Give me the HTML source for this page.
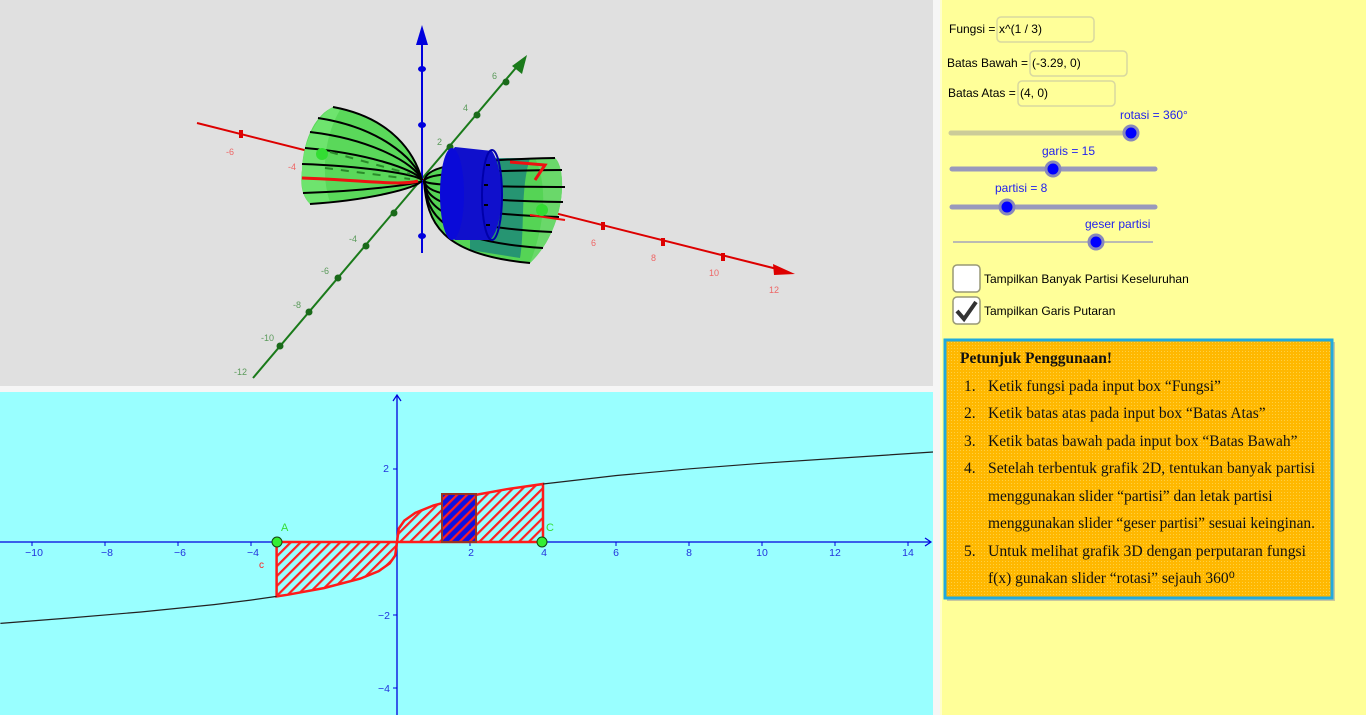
<!DOCTYPE html>
<html><head><meta charset="utf-8">
<style>
html,body{margin:0;padding:0;width:1366px;height:715px;overflow:hidden;background:#ffff99;}
svg{display:block;font-family:"Liberation Sans",Arial,sans-serif;}
.ser{font-family:"Liberation Serif","Times New Roman",serif;}
</style></head>
<body>
<svg width="1366" height="715" viewBox="0 0 1366 715" xmlns="http://www.w3.org/2000/svg">
<defs>
<pattern id="hatch" width="7" height="7" patternUnits="userSpaceOnUse" patternTransform="rotate(45)">
<rect width="7" height="7" fill="#99ffff"/>
<rect width="2.2" height="7" fill="#ff2020"/>
</pattern>
<pattern id="hatchB" width="7" height="7" patternUnits="userSpaceOnUse" patternTransform="rotate(45)">
<rect width="7" height="7" fill="#1010e0"/>
<rect width="2.2" height="7" fill="#ff2020"/>
</pattern>
<pattern id="org" width="3" height="3" patternUnits="userSpaceOnUse">
<rect width="3" height="3" fill="#ffb800"/>
<rect width="1" height="1" fill="#ffd040"/>
</pattern>
</defs>

<rect x="0" y="0" width="1366" height="715" fill="#ffff99"/>
<rect x="0" y="0" width="933" height="386" fill="#e0e0e0"/>
<rect x="0" y="386" width="940" height="6" fill="#f6f6f6"/>
<rect x="0" y="392" width="933" height="323" fill="#99ffff"/>
<rect x="933" y="0" width="7" height="715" fill="#f6f6f6"/>
<rect x="940" y="0" width="2" height="715" fill="#ffffcc"/>

<!-- ===== 3D view ===== -->
<line x1="253" y1="378" x2="520" y2="63" stroke="#1a7a1a" stroke-width="2"/>
<polygon points="527,55 512,66 522,74" fill="#1a7a1a"/>
<g fill="#1a6a1a">
<circle cx="280" cy="346" r="3.5"/><circle cx="309" cy="312" r="3.5"/><circle cx="338" cy="278" r="3.5"/><circle cx="366" cy="246" r="3.5"/><circle cx="394" cy="213" r="3.5"/><circle cx="450" cy="147" r="3.5"/><circle cx="477" cy="115" r="3.5"/><circle cx="506" cy="82" r="3.5"/>
</g>
<g fill="#5a9a5a" font-size="9">
<text x="234" y="375">-12</text><text x="261" y="341">-10</text><text x="293" y="308">-8</text><text x="321" y="274">-6</text><text x="349" y="242">-4</text><text x="437" y="145">2</text><text x="463" y="111">4</text><text x="492" y="79">6</text>
</g>
<line x1="197" y1="123" x2="785" y2="271" stroke="#dd0000" stroke-width="2"/>
<polygon points="795,274 773,264 774,275" fill="#dd0000"/>
<g fill="#dd0000">
<rect x="239" y="130" width="4" height="8"/><rect x="360" y="159" width="4" height="8"/><rect x="601" y="222" width="4" height="8"/><rect x="661" y="238" width="4" height="8"/><rect x="721" y="253" width="4" height="8"/>
</g>
<g fill="#ee6666" font-size="9">
<text x="226" y="155">-6</text><text x="288" y="170">-4</text><text x="591" y="246">6</text><text x="651" y="261">8</text><text x="709" y="276">10</text><text x="769" y="293">12</text>
</g>
<line x1="422" y1="253" x2="422" y2="40" stroke="#0000dd" stroke-width="2"/>
<polygon points="422,25 416,45 428,45" fill="#0000dd"/>
<g fill="#0000dd"><ellipse cx="422" cy="69" rx="4" ry="3"/><ellipse cx="422" cy="125" rx="4" ry="3"/><ellipse cx="422" cy="236" rx="4" ry="3"/></g>

<!-- left frustum -->
<path d="M333,107 C393,118 415,154.5 422,180 C415,188.4 370,200 310,204 C302,196 300,185 302,170 C303,140 315,115 333,107 Z" fill="#5ad85a"/>
<path d="M333,107 C318,115 303,140 302,170 C300,185 303,196 310,204 L330,202 C322,180 322,140 340,110 Z" fill="#6ee46e"/>
<g stroke="#000" stroke-width="2" fill="none">
<path d="M333,107 C393,118 415,154.5 422,180"/>
<path d="M318,118 C378,127 415,158 422,180"/>
<path d="M310,132 C370,139 415,163 422,180"/>
<path d="M305,148 C365,153 415,169 422,180"/>
<path d="M302,164 C362,166 415,174 422,180"/>
<path d="M303,193 C363,191 415,184.5 422,181"/>
<path d="M310,204 C370,200 415,188.4 422,181"/>
</g>
<path d="M302,178 C362,180 400,186 418,181" stroke="#ee1111" stroke-width="3" fill="none"/>
<g stroke="#2a8a2a" stroke-width="2" stroke-dasharray="8,8"><line x1="330" y1="152" x2="410" y2="174"/><line x1="325" y1="168" x2="410" y2="179"/></g>
<circle cx="322" cy="154" r="6" fill="#33dd33"/>

<!-- right frustum -->
<path d="M424,181 C427,169.5 440,160.3 555,158 C568,170 565,230 530,263 C440,254.8 427,222 424,181 Z" fill="#55d455"/>
<path d="M470,158 L530,158 C520,190 525,230 520,258 L470,250 Z" fill="#1f8a78" opacity="0.85"/>
<path d="M555,158 C568,170 565,230 530,263 C545,225 548,185 535,158 Z" fill="#6ad86a"/>
<g stroke="#000" stroke-width="2" fill="none">
<path d="M424,181 C427,169.5 440,160.3 555,158"/>
<path d="M424,181 C427,175.5 440,171.1 562,170"/>
<path d="M424,181 C427,184 440,186.4 565,187"/>
<path d="M424,181 C427,191.5 440,199.9 563,202"/>
<path d="M424,181 C427,199 440,213.4 559,217"/>
<path d="M424,181 C427,206.5 440,226.9 552,232"/>
<path d="M424,181 C427,214.5 440,241.3 543,248"/>
<path d="M424,181 C427,222 440,254.8 530,263"/>
</g>
<path d="M510,162 L545,165 L535,180" stroke="#ee1111" stroke-width="3" fill="none"/>
<line x1="530" y1="215" x2="565" y2="220" stroke="#ee1111" stroke-width="2"/>
<circle cx="542" cy="210" r="6" fill="#33dd33"/>
<!-- blue ring -->
<path d="M455,147 L492,151 C505,170 505,225 490,240 L455,240 C438,225 438,165 455,147 Z" fill="#1010cc"/>
<ellipse cx="452" cy="194" rx="12" ry="46" fill="#0a0ad8"/>
<ellipse cx="492" cy="195" rx="10" ry="45" fill="none" stroke="#0000aa" stroke-width="2"/>
<g stroke="#000" stroke-width="2"><line x1="486" y1="165" x2="490" y2="165"/><line x1="484" y1="185" x2="488" y2="185"/><line x1="484" y1="205" x2="488" y2="205"/><line x1="486" y1="225" x2="490" y2="225"/></g>

<!-- ===== 2D view ===== -->
<line x1="0" y1="542" x2="930" y2="542" stroke="#0000dd" stroke-width="1.3"/>
<path d="M925,538 L931,542 L925,546" fill="none" stroke="#0000dd" stroke-width="1.2"/>
<line x1="397" y1="396" x2="397" y2="715" stroke="#0000dd" stroke-width="1.3"/>
<path d="M393,401 L397,395 L401,401" fill="none" stroke="#0000dd" stroke-width="1.2"/>
<g stroke="#0000dd" stroke-width="1">
<line x1="32" y1="542" x2="32" y2="546"/><line x1="105" y1="542" x2="105" y2="546"/><line x1="178" y1="542" x2="178" y2="546"/><line x1="251" y1="542" x2="251" y2="546"/><line x1="324" y1="542" x2="324" y2="546"/><line x1="470" y1="542" x2="470" y2="546"/><line x1="543" y1="542" x2="543" y2="546"/><line x1="616" y1="542" x2="616" y2="546"/><line x1="689" y1="542" x2="689" y2="546"/><line x1="762" y1="542" x2="762" y2="546"/><line x1="835" y1="542" x2="835" y2="546"/><line x1="908" y1="542" x2="908" y2="546"/>
<line x1="393" y1="469" x2="397" y2="469"/><line x1="393" y1="615" x2="397" y2="615"/><line x1="393" y1="688" x2="397" y2="688"/>
</g>
<g fill="#2233dd" font-size="10.5" text-anchor="middle">
<text x="34" y="556">−10</text><text x="107" y="556">−8</text><text x="180" y="556">−6</text><text x="253" y="556">−4</text><text x="327" y="556">−2</text><text x="387" y="556">0</text><text x="471" y="556">2</text><text x="544" y="556">4</text><text x="616" y="556">6</text><text x="689" y="556">8</text><text x="762" y="556">10</text><text x="835" y="556">12</text><text x="908" y="556">14</text>
<text x="386" y="472">2</text><text x="384" y="619">−2</text><text x="384" y="692">−4</text>
</g>
<path d="M276.6,542 L397,542 L395.2,555.5 L389.7,563.4 L378.7,571.1 L360.4,578.6 L323.8,588.1 L287.2,594.8 L276.6,596.4 Z" fill="url(#hatch)" stroke="#ff1a1a" stroke-width="2.5"/>
<path d="M397,542 L398.8,528.5 L404.3,520.6 L415.3,512.9 L433.6,505.4 L470.2,495.9 L506.8,489.2 L543,484 L543,542 Z" fill="url(#hatch)" stroke="#ff1a1a" stroke-width="2.5"/>
<rect x="442" y="494" width="34" height="48" fill="url(#hatchB)" stroke="#993322" stroke-width="2"/>
<polyline points="0.4,623.4 67.6,618.1 140.8,612 214,604.6 250.6,600.1 276.6,596.4" fill="none" stroke="#222" stroke-width="1.2"/>
<polyline points="543,484 616.6,475.5 689.8,468.8 763,463.2 836.2,458.4 933,452" fill="none" stroke="#222" stroke-width="1.2"/>
<circle cx="277" cy="542" r="5" fill="#33ee33" stroke="#114411" stroke-width="1"/>
<circle cx="542" cy="542" r="5" fill="#33ee33" stroke="#114411" stroke-width="1"/>
<text x="281" y="531" fill="#33dd33" font-size="11">A</text>
<text x="546" y="531" fill="#33dd33" font-size="11">C</text>
<text x="259" y="568" fill="#ff2020" font-size="10">c</text>

<!-- ===== right panel ===== -->
<g font-size="12" fill="#000">
<text x="949" y="33">Fungsi =</text>
<rect x="997" y="17" width="97" height="25" rx="4" fill="#ffff99" stroke="#d8d8a0" stroke-width="1.5"/>
<text x="999" y="33">x^(1 / 3)</text>
<text x="947" y="67">Batas Bawah =</text>
<rect x="1030" y="51" width="97" height="25" rx="4" fill="#ffff99" stroke="#d8d8a0" stroke-width="1.5"/>
<text x="1032" y="67">(-3.29, 0)</text>
<text x="948" y="97">Batas Atas =</text>
<rect x="1018" y="81" width="97" height="25" rx="4" fill="#ffff99" stroke="#d8d8a0" stroke-width="1.5"/>
<text x="1020" y="97">(4, 0)</text>
</g>
<g font-size="12" fill="#2222ee">
<text x="1120" y="119">rotasi = 360°</text>
<text x="1042" y="155">garis = 15</text>
<text x="995" y="192">partisi = 8</text>
<text x="1085" y="228">geser partisi</text>
</g>
<line x1="951" y1="133" x2="1131" y2="133" stroke="#cccc99" stroke-width="5" stroke-linecap="round"/>
<line x1="952" y1="169" x2="1155" y2="169" stroke="#9999bb" stroke-width="5" stroke-linecap="round"/>
<line x1="952" y1="207" x2="1155" y2="207" stroke="#9999bb" stroke-width="5" stroke-linecap="round"/>
<line x1="953" y1="242" x2="1153" y2="242" stroke="#7777cc" stroke-width="1"/>
<g fill="#0000ff" stroke="#8888bb" stroke-width="3">
<circle cx="1131" cy="133" r="7"/><circle cx="1053" cy="169" r="7"/><circle cx="1007" cy="207" r="7"/><circle cx="1096" cy="242" r="7"/>
</g>
<rect x="953" y="265" width="27" height="27" rx="4" fill="#fff" stroke="#999977" stroke-width="1.5"/>
<text x="984" y="283" font-size="12">Tampilkan Banyak Partisi Keseluruhan</text>
<rect x="953" y="297" width="27" height="27" rx="4" fill="#fff" stroke="#999977" stroke-width="1.5"/>
<path d="M957,311 L964,319 L976,302" fill="none" stroke="#333" stroke-width="4"/>
<text x="984" y="315" font-size="12">Tampilkan Garis Putaran</text>

<rect x="947" y="342" width="388" height="259" fill="#c8c8a0"/>
<rect x="945" y="340" width="387" height="258" fill="url(#org)" stroke="#22aadd" stroke-width="3"/>
<g class="ser" font-size="15.5" fill="#111">
<text x="960" y="363" font-weight="bold">Petunjuk Penggunaan!</text>
<text x="964" y="391">1.</text><text x="988" y="391">Ketik fungsi pada input box “Fungsi”</text>
<text x="964" y="418">2.</text><text x="988" y="418">Ketik batas atas pada input box “Batas Atas”</text>
<text x="964" y="446">3.</text><text x="988" y="446">Ketik batas bawah pada input box “Batas Bawah”</text>
<text x="964" y="473">4.</text><text x="988" y="473" textLength="327" lengthAdjust="spacingAndGlyphs">Setelah terbentuk grafik 2D, tentukan banyak partisi</text>
<text x="988" y="501">menggunakan slider “partisi” dan letak partisi</text>
<text x="988" y="528" textLength="327" lengthAdjust="spacingAndGlyphs">menggunakan slider “geser partisi” sesuai keinginan.</text>
<text x="964" y="556">5.</text><text x="988" y="556" textLength="318" lengthAdjust="spacingAndGlyphs">Untuk melihat grafik 3D dengan perputaran fungsi</text>
<text x="988" y="583">f(x) gunakan slider “rotasi” sejauh 360⁰</text>
</g>
</svg>
</body></html>
